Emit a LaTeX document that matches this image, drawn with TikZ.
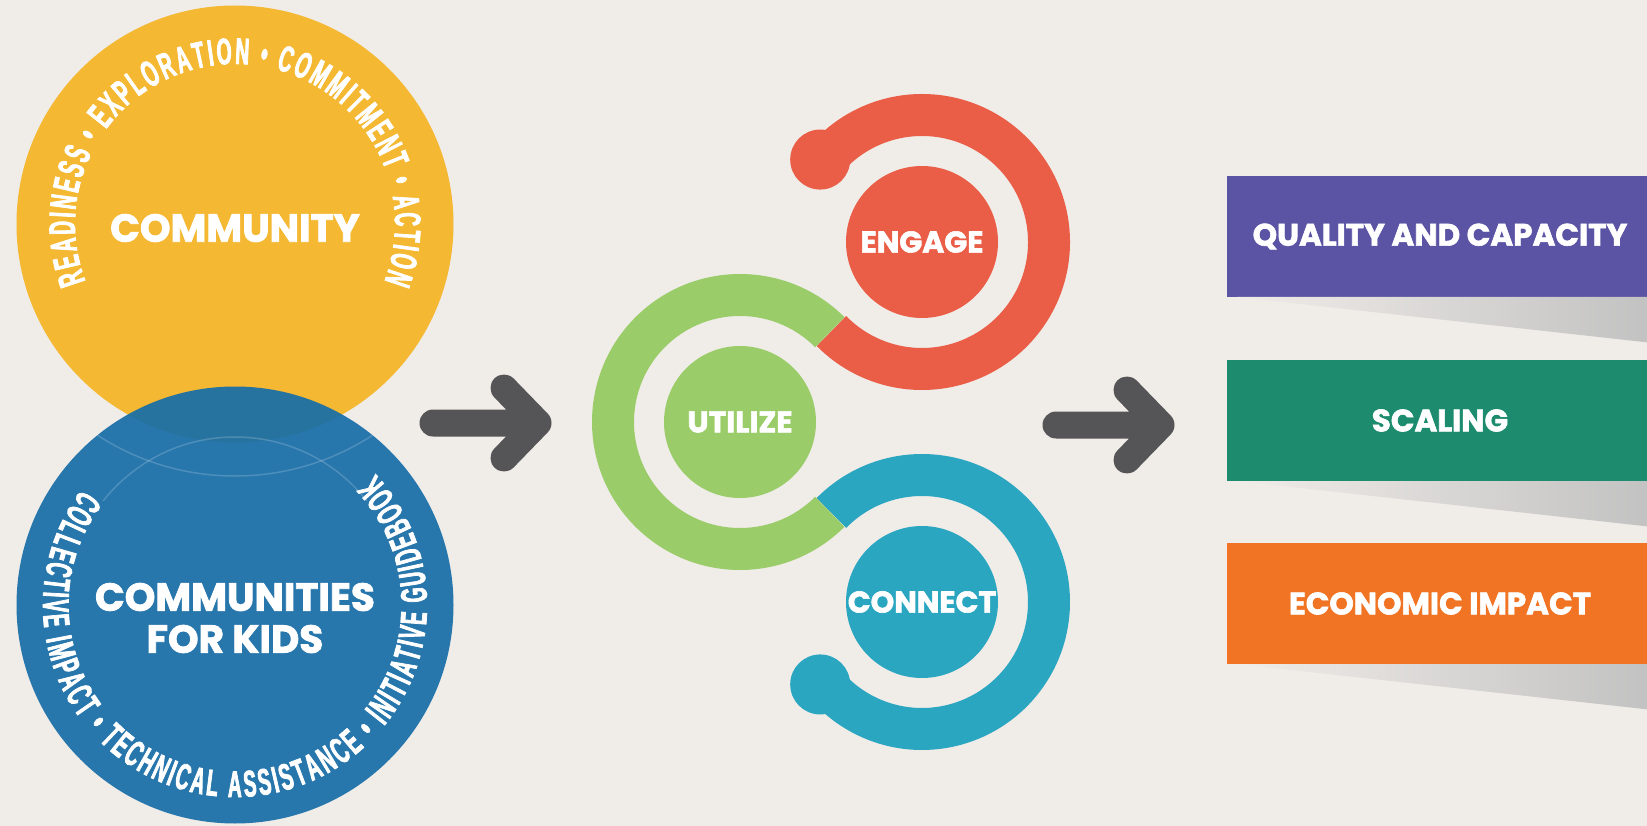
\documentclass[tikz,border=0pt]{standalone}
\usepackage{fontspec}
\setmainfont{Poppins}[BoldFeatures={FakeBold=2}]
\newfontfamily\ringfont{Liberation Sans}[UprightFont=* Bold, FakeStretch=0.52, FakeBold=2]
\usetikzlibrary{positioning,decorations.text}

\definecolor{bgc}{RGB}{240,236,232}
\definecolor{commc}{RGB}{244,184,50}
\definecolor{kidsc}{RGB}{24,110,168}
\definecolor{engc}{RGB}{234,93,70}
\definecolor{utilc}{RGB}{155,204,106}
\definecolor{connc}{RGB}{42,166,193}
\definecolor{qualc}{RGB}{91,83,163}
\definecolor{scalc}{RGB}{28,139,110}
\definecolor{econc}{RGB}{240,116,36}
\definecolor{arrowc}{RGB}{85,85,87}
\newcommand\ringformat{\ringfont\fontsize{37}{37}\selectfont}

\tikzset{
	bigcircle/.style={
		circle, minimum size=437pt, inner sep=0pt, outer sep=0pt,
		text=white, align=center, font=\bfseries\fontsize{39}{42}\selectfont
	},
	%
	disc/.style={
		circle, minimum size=152pt, inner sep=0pt,
		text=white, font=\bfseries\fontsize{30}{30}\selectfont
	},
	%
	ring/.style={line width=42pt},
	%
	outbox/.style={
		rectangle, minimum width=426pt, minimum height=121pt, inner sep=0pt, outer sep=0pt,
		text=white, font=\bfseries\fontsize{31}{31}\selectfont
	},
	%
	bigarrow/.style={
		line width=27pt, line cap=round, line join=round, draw=arrowc
	},
	%
	faint/.style={draw=white, opacity=0.18, line width=1.5pt}
}

\begin{document}
\begin{tikzpicture}[x=1pt, y=1pt]
\fill[bgc] (0,0) rectangle (1647,-826);
\useasboundingbox (0,0) rectangle (1647,-826);

% circles on the left
\node(comm)[bigcircle, fill=commc] at (235,-224) {};
\node(kids)[bigcircle, fill=kidsc, fill opacity=0.93, below=-56pt of comm] {};
\node(commlabel)[bigcircle, minimum size=0pt] at ([yshift=-4pt]comm.center) {COMMUNITY};
\node(kidslabel)[bigcircle, minimum size=0pt] at ([yshift=-13pt]kids.center) {COMMUNITIES\\FOR KIDS};
\begin{scope}
	\clip (kids.center) circle[radius=218.5];
	\clip (0,-380) rectangle (470,-500);
	\draw[faint] (comm.center) circle[radius=252];
	\draw[faint] (kids.center) circle[radius=168];
\end{scope}

\path[decorate, decoration={text along path, text align=fit to path, text color=white,
	text={|\ringformat|READINESS • EXPLORATION • COMMITMENT • ACTION}}]
	(comm.center) ++(201:160) arc[start angle=201, end angle=-21, radius=160];
\path[decorate, decoration={text along path, text align=fit to path, text color=white,
	text={|\ringformat|COLLECTIVE IMPACT • TECHNICAL ASSISTANCE • INITIATIVE GUIDEBOOK}}]
	(kids.center) ++(143:192) arc[start angle=143, end angle=403, radius=192];

% first arrow
\coordinate(arrA) at (433,-423);
\coordinate(arrAtip) at (538,-423);
\draw[bigarrow] (arrA) -- (arrAtip) ++(-34,35) -- (arrAtip) -- ++(-34,-35);

% engage, utilize, connect
\node(engage)[disc, fill=engc] at (922,-242) {ENGAGE};
\node(utilize)[disc, fill=utilc, on grid, below left=180pt and 182pt of engage] {UTILIZE};
\node(connect)[disc, fill=connc, on grid, below right=180pt and 182pt of utilize] {CONNECT};

\draw[ring, engc] (engage.center) ++(142:127) arc[start angle=142, end angle=-135.5, radius=127];
\fill[engc] (engage.center) ++(141:131) circle[radius=30];
\draw[ring, connc] (connect.center) ++(135.5:127) arc[start angle=135.5, end angle=-142, radius=127];
\fill[connc] (connect.center) ++(-141:131) circle[radius=30];
\draw[ring, utilc] (utilize.center) ++(45:127) arc[start angle=45, end angle=315, radius=127];

% second arrow
\coordinate(arrB) at (1056,-425);
\coordinate(arrBtip) at (1161,-425);
\draw[bigarrow] (arrB) -- (arrBtip) ++(-34,35) -- (arrBtip) -- ++(-34,-35);

% boxes on the right
\node(quality)[outbox, fill=qualc] at (1440,-236.5) {QUALITY AND CAPACITY};
\node(scaling)[outbox, fill=scalc, below=63pt of quality] {SCALING};
\node(econ)[outbox, fill=econc, below=62pt of scaling] {ECONOMIC IMPACT};

\foreach \b in {quality,scaling,econ}{
	\shade[left color=bgc, right color=black!24] ([xshift=10pt]\b.south west) -- (\b.south east) -- ([yshift=-46pt]\b.south east) -- cycle;
}
\end{tikzpicture}
\end{document}
